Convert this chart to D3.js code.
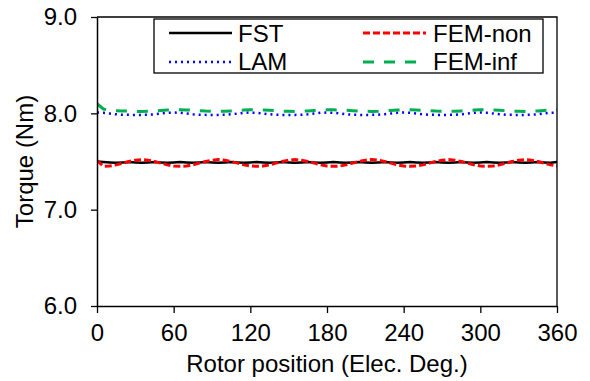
<!DOCTYPE html>
<html><head><meta charset="utf-8">
<script src="https://cdn.jsdelivr.net/npm/d3@7"></script>
<style>body{margin:0;background:#fff}svg{display:block}text{font-family:"Liberation Sans",Arial,sans-serif;fill:#000}</style>
</head><body><svg id="c" width="590" height="381"></svg>
<script>
const angles = [0,5,10,15,20,25,30,35,40,45,50,55,60,65,70,75,80,85,90,95,100,105,110,115,120,125,130,135,140,145,150,155,160,165,170,175,180,185,190,195,200,205,210,215,220,225,230,235,240,245,250,255,260,265,270,275,280,285,290,295,300,305,310,315,320,325,330,335,340,345,350,355,360];
const fst = [7.50,7.495,7.49,7.486,7.49,7.495,7.49,7.486,7.49,7.495,7.49,7.486,7.49,7.495,7.49,7.486,7.49,7.495,7.49,7.486,7.49,7.495,7.49,7.486,7.49,7.495,7.49,7.486,7.49,7.495,7.49,7.486,7.49,7.495,7.49,7.486,7.49,7.495,7.49,7.486,7.49,7.495,7.49,7.486,7.49,7.495,7.49,7.486,7.49,7.495,7.49,7.486,7.49,7.495,7.49,7.486,7.49,7.495,7.49,7.486,7.49,7.495,7.49,7.486,7.49,7.495,7.49,7.486,7.49,7.495,7.49,7.486,7.495];
const femNon = [7.51,7.45,7.453,7.465,7.483,7.50,7.513,7.52,7.513,7.50,7.483,7.465,7.453,7.45,7.453,7.465,7.483,7.50,7.513,7.52,7.513,7.50,7.483,7.465,7.453,7.45,7.453,7.465,7.483,7.50,7.513,7.52,7.513,7.50,7.483,7.465,7.453,7.45,7.453,7.465,7.483,7.50,7.513,7.52,7.513,7.50,7.483,7.465,7.453,7.45,7.453,7.465,7.483,7.50,7.513,7.52,7.513,7.50,7.483,7.465,7.453,7.45,7.453,7.465,7.483,7.50,7.513,7.52,7.513,7.50,7.483,7.465,7.453];
const lam = [8.008,8.006,7.998,7.99,7.985,7.984,7.984,7.984,7.985,7.99,7.998,8.006,8.008,8.006,7.998,7.99,7.985,7.984,7.984,7.984,7.985,7.99,7.998,8.006,8.008,8.006,7.998,7.99,7.985,7.984,7.984,7.984,7.985,7.99,7.998,8.006,8.008,8.006,7.998,7.99,7.985,7.984,7.984,7.984,7.985,7.99,7.998,8.006,8.008,8.006,7.998,7.99,7.985,7.984,7.984,7.984,7.985,7.99,7.998,8.006,8.008,8.006,7.998,7.99,7.985,7.984,7.984,7.984,7.985,7.99,7.998,8.006,8.008];
const femInf = [8.10,8.045,8.03,8.028,8.025,8.022,8.02,8.02,8.021,8.025,8.03,8.034,8.036,8.036,8.035,8.032,8.027,8.023,8.021,8.02,8.021,8.025,8.03,8.034,8.036,8.036,8.035,8.032,8.027,8.023,8.021,8.02,8.021,8.025,8.03,8.034,8.036,8.036,8.035,8.032,8.027,8.023,8.021,8.02,8.021,8.025,8.03,8.034,8.036,8.036,8.035,8.032,8.027,8.023,8.021,8.02,8.021,8.025,8.03,8.034,8.036,8.036,8.035,8.032,8.027,8.023,8.021,8.02,8.021,8.025,8.03,8.034,8.036];
const xTicks = [0,60,120,180,240,300,360];
const yTicks = [6.0,7.0,8.0,9.0];
const seriesNames = ["FST","LAM","FEM-non","FEM-inf"];

const svg = d3.select("#c");
const L=97, R=557, T=17, B=306;
const x = d3.scaleLinear().domain([0,360]).range([L,R]);
const y = d3.scaleLinear().domain([6,9]).range([B,T]);
const fs = "24px";

const series = [
  {name:"FST", vals:fst, color:"#000", w:2.5, dash:null},
  {name:"FEM-non", vals:femNon, color:"#ff0000", w:3, dash:"7,3"},
  {name:"LAM", vals:lam, color:"#0000ff", w:2.5, dash:"2,4"},
  {name:"FEM-inf", vals:femInf, color:"#00b050", w:3, dash:"11,10"}
];
const line = d3.line().x(d=>x(d[0])).y(d=>y(d[1]));
svg.append("defs").append("clipPath").attr("id","cp").append("rect").attr("x",L).attr("y",T).attr("width",R-L).attr("height",B-T);
const plot = svg.append("g").attr("clip-path","url(#cp)");
for (const s of series) {
  plot.append("path").datum(angles.map((a,i)=>[a,s.vals[i]]))
    .attr("d",line).attr("fill","none").attr("stroke",s.color)
    .attr("stroke-width",s.w).attr("stroke-dasharray",s.dash)
    .attr("stroke-linejoin","round");
}

svg.append("path").attr("d",`M${L},${T}H${R}V${B}`).attr("fill","none").attr("stroke","#000").attr("stroke-width",1.3);

const xa = svg.append("g").attr("transform",`translate(0,${B})`)
  .call(d3.axisBottom(x).tickValues(xTicks).tickSize(7).tickSizeOuter(0).tickPadding(12).tickFormat(d3.format("d")));
const ya = svg.append("g").attr("transform",`translate(${L},0)`)
  .call(d3.axisLeft(y).tickValues(yTicks).tickSize(6).tickSizeOuter(0).tickPadding(14).tickFormat(d3.format(".1f")));
for (const a of [xa,ya]) {
  a.select(".domain").attr("stroke","#000").attr("stroke-width",1.5);
  a.selectAll(".tick line").attr("stroke","#000").attr("stroke-width",1.3);
  a.selectAll(".tick text").attr("font-size",fs).attr("font-family","Liberation Sans, Arial, sans-serif").attr("fill","#000");
}
xa.selectAll(".tick text").attr("dy","0.68em");

svg.append("text").attr("x",(L+R)/2).attr("y",372).attr("text-anchor","middle").attr("font-size",fs).text("Rotor position (Elec. Deg.)");
svg.append("text").attr("transform",`translate(33,${(T+B)/2}) rotate(-90)`).attr("text-anchor","middle").attr("font-size",fs).text("Torque (Nm)");

const lg = svg.append("g");
lg.append("rect").attr("x",154).attr("y",19).attr("width",389).attr("height",54).attr("fill","#fff").attr("stroke","#000").attr("stroke-width",1.3);
const legendItems = [
  {s:series[0], lx:169, ly:33, tx:238, ty:42},
  {s:series[2], lx:169, ly:62, tx:238, ty:70},
  {s:series[1], lx:363, ly:33, tx:433, ty:42},
  {s:series[3], lx:363, ly:62, tx:433, ty:70}
];
for (const it of legendItems) {
  lg.append("line").attr("x1",it.lx).attr("x2",it.lx+63).attr("y1",it.ly).attr("y2",it.ly)
    .attr("stroke",it.s.color).attr("stroke-width",it.s.w).attr("stroke-dasharray",it.s.dash);
  lg.append("text").attr("x",it.tx).attr("y",it.ty).attr("font-size",fs).text(it.s.name);
}
</script></body></html>
